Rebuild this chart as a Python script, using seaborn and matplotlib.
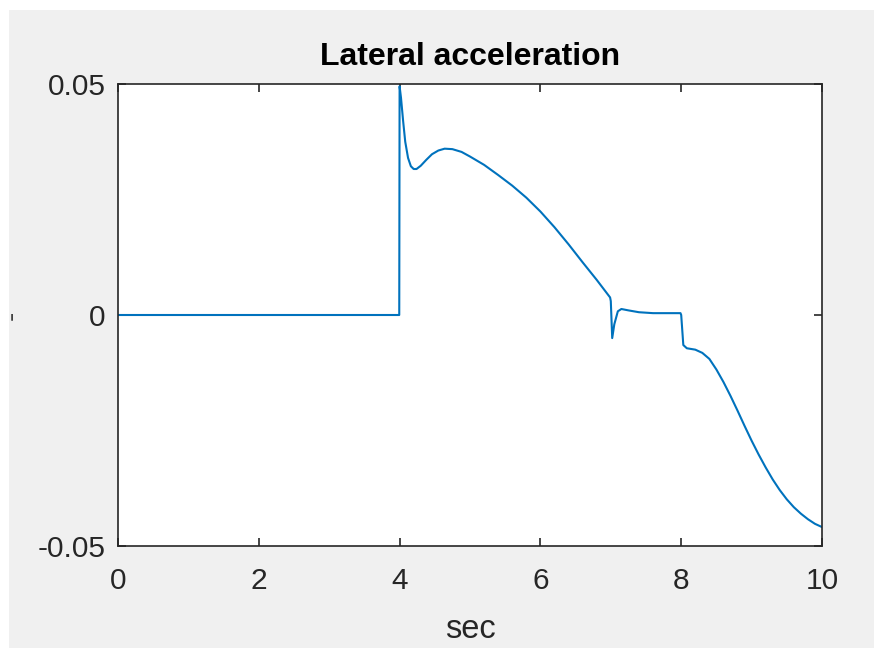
import numpy as np
import pandas as pd
import seaborn as sns
import matplotlib.pyplot as plt
from matplotlib.patches import Rectangle

# Simulated lateral acceleration response (time in sec, acceleration)
time_s = [0.0, 3.995, 4.0, 4.02, 4.05, 4.08, 4.12, 4.16, 4.20, 4.24, 4.30,
          4.38, 4.46, 4.55, 4.64, 4.75, 4.88, 5.0, 5.2, 5.4, 5.6, 5.8, 6.0,
          6.2, 6.4, 6.6, 6.8, 6.99, 7.0, 7.02, 7.05, 7.1, 7.15, 7.25, 7.4,
          7.6, 7.8, 7.99, 8.0, 8.03, 8.08, 8.2, 8.3, 8.4, 8.5, 8.6, 8.7,
          8.8, 8.9, 9.0, 9.1, 9.2, 9.3, 9.4, 9.5, 9.6, 9.7, 9.8, 9.9, 10.0]
lat_acc = [0.0, 0.0, 0.0495, 0.0470, 0.0420, 0.0375, 0.0340, 0.0322, 0.0316,
           0.0316, 0.0323, 0.0336, 0.0348, 0.0356, 0.0360, 0.0359, 0.0353,
           0.0343, 0.0325, 0.0303, 0.0280, 0.0254, 0.0224, 0.0190, 0.0153,
           0.0114, 0.0076, 0.0038, 0.0030, -0.0050, -0.0020, 0.0008, 0.0013,
           0.0010, 0.0006, 0.0004, 0.0004, 0.0004, 0.0, -0.0065, -0.0072,
           -0.0075, -0.0082, -0.0095, -0.0118, -0.0145, -0.0175, -0.0207,
           -0.0240, -0.0272, -0.0302, -0.0330, -0.0356, -0.0379, -0.0399,
           -0.0416, -0.0430, -0.0442, -0.0452, -0.0459]

x_ticks = [0, 2, 4, 6, 8, 10]
y_ticks = [-0.05, 0, 0.05]
y_tick_labels = ["-0.05", "0", "0.05"]

df = pd.DataFrame({"t": time_s, "a": lat_acc})

sns.set_theme(style="ticks")
plt.rcParams["font.family"] = ["Liberation Sans", "DejaVu Sans"]

fig = plt.figure(figsize=(8.74, 6.55), dpi=100, facecolor="white")
# grey figure panel with a thin white margin on the left, top and bottom
fig.patches.append(Rectangle((9 / 874, 7 / 655), 1 - 9 / 874, 1 - 17 / 655,
                             transform=fig.transFigure, facecolor="#f0f0f0",
                             edgecolor="none", zorder=-10))

ax = fig.add_axes([118 / 874, 1 - 546 / 655, 704 / 874, 462 / 655])
ax.set_facecolor("white")

sns.lineplot(data=df, x="t", y="a", ax=ax, color="#0072BD", linewidth=1.5,
             estimator=None, sort=False)

ax.set_xlim(0, 10)
ax.set_ylim(-0.05, 0.05)
ax.set_xticks(x_ticks)
ax.set_xticklabels([str(v) for v in x_ticks])
ax.set_yticks(y_ticks)
ax.set_yticklabels(y_tick_labels)

for s in ax.spines.values():
    s.set_visible(True)
    s.set_color("#262626")
    s.set_linewidth(1.2)

ax.tick_params(axis="both", which="both", direction="in", length=6,
               width=1.2, color="#262626", labelsize=21.5,
               labelcolor="#262626", top=True, right=True)
ax.tick_params(axis="x", pad=15)
ax.tick_params(axis="y", pad=9)

ax.set_title("Lateral acceleration", fontsize=23, fontweight="bold",
             color="black", pad=14)
ax.set_xlabel("sec", fontsize=23.5, color="#262626", labelpad=14)
ax.set_ylabel("-", fontsize=20, color="#404040", rotation=90)
ax.yaxis.set_label_coords(-0.133, 0.5)

fig.savefig("out.png", dpi=100, facecolor=fig.get_facecolor())
